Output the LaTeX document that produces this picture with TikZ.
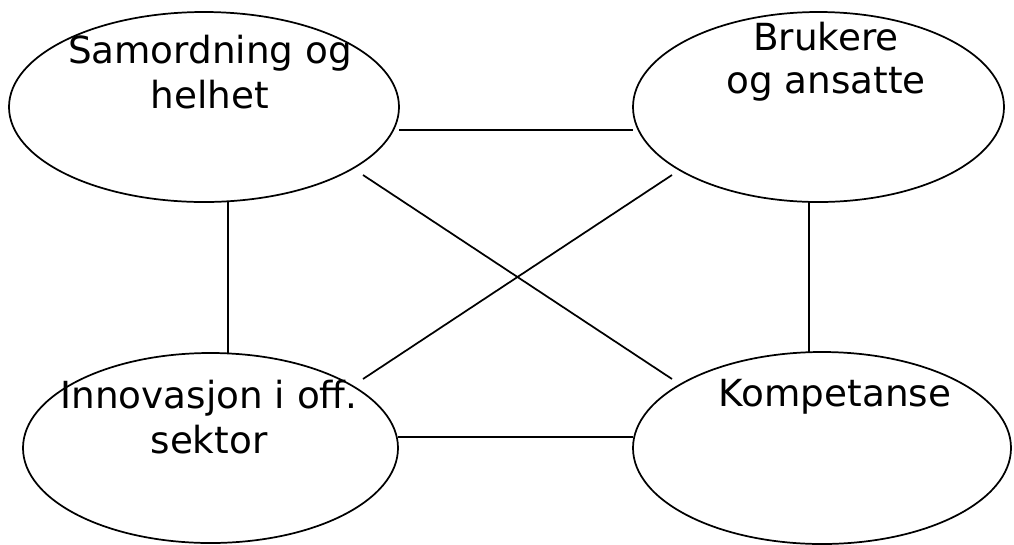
\documentclass[tikz,border=0pt]{standalone}
\usepackage{fontspec}
\setmainfont{DejaVu Sans}
\usetikzlibrary{shapes.geometric,calc}
\begin{document}
\begin{tikzpicture}[x=0.75pt,y=-0.75pt,
  oval/.style={ellipse,draw=black,line width=1.3pt,inner sep=0pt,outer sep=0pt},
  lbl/.style={anchor=base,inner sep=0pt,align=center,font=\fontsize{28}{33.75}\selectfont},
  link/.style={draw=black,line width=1.3pt}]
\useasboundingbox (0,0) rectangle (1014,544);
\node[oval,minimum width=292.5pt,minimum height=142.5pt] (a) at (204,107) {};
\node[oval,minimum width=278.25pt,minimum height=142.5pt] (b) at (818.5,107) {};
\node[oval,minimum width=281.25pt,minimum height=142.5pt] (c) at (210.5,448) {};
\node[oval,minimum width=283.5pt,minimum height=144pt] (d) at (822,448) {};
\node[lbl] (ta) at (210,108) {Samordning og\\helhet};
\node[lbl,font=\fontsize{28}{32.25}\selectfont] (tb) at (826,93) {Brukere\\og ansatte};
\node[lbl] (tc) at (209,453) {Innovasjon i off.\\sektor};
\node[lbl] (td) at (835,406) {Kompetanse};
\draw[link] ($(a.east)+(0,23)$) -- ($(b.west)+(0,23)$);
\draw[link] ($(c.east)+(0,-11)$) -- ($(d.west)+(0,-11)$);
\draw[link] ($(a.south)+(24,0)$) -- ($(c.north)+(17.5,0)$);
\draw[link] ($(b.south)+(-9.5,0)$) -- ($(d.north)+(-13,0)$);
\draw[link] ($(a)+(159,68)$) -- ($(d)+(-150,-69)$);
\draw[link] ($(b)+(-146.5,68)$) -- ($(c)+(152.5,-69)$);
\end{tikzpicture}
\end{document}
